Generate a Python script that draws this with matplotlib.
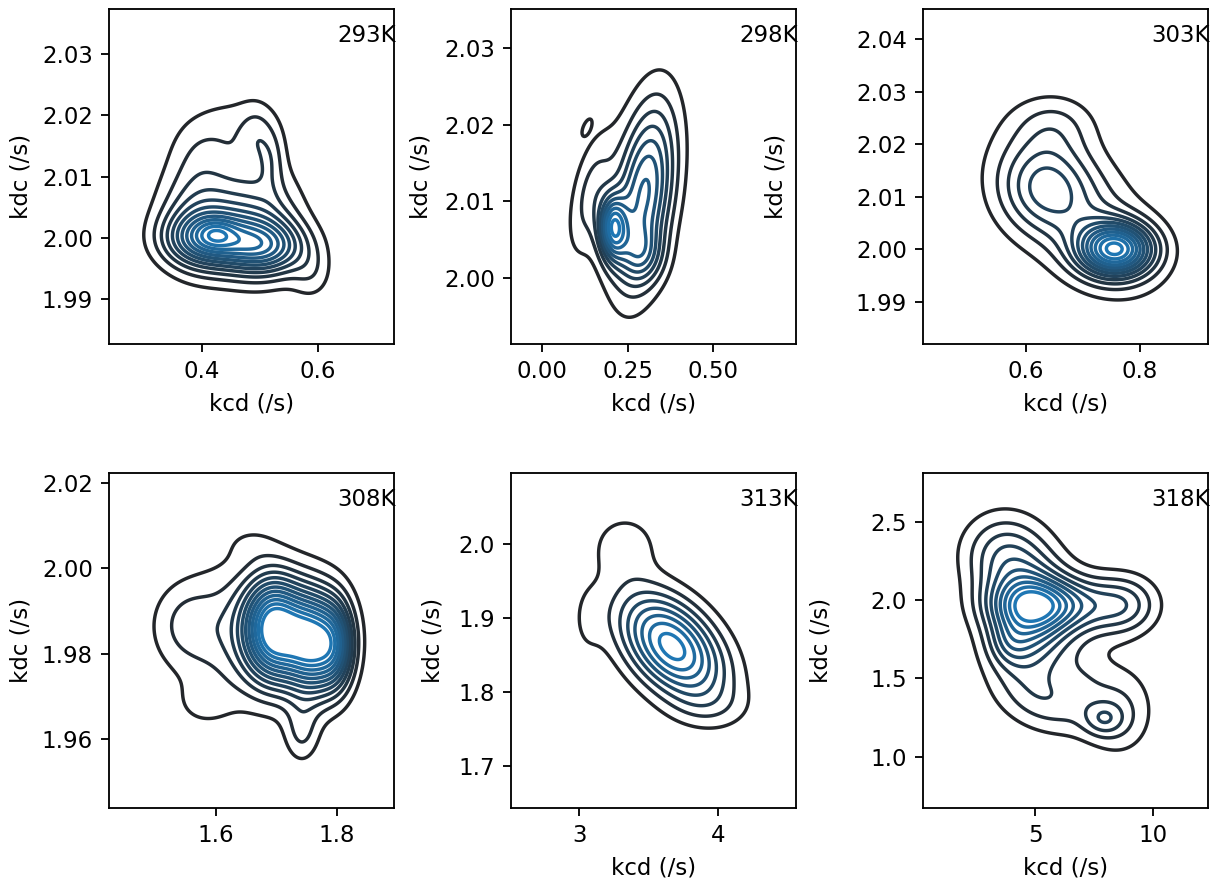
import numpy as np
import matplotlib
matplotlib.use('Agg')
import matplotlib.pyplot as plt
import seaborn as sns

# temperature of each panel
temps = ['293K', '298K', '303K', '308K', '313K', '318K']

# density bumps: (kcd, kdc, sd kcd, sd kdc, height, corr)
blobs_293 = [(0.425, 2.0007, 0.022, 0.0015, 0.12, 0.0),
             (0.410, 1.9998, 0.050, 0.0030, 0.45, 0.0),
             (0.510, 1.9985, 0.050, 0.0030, 0.42, 0.0),
             (0.400, 2.0035, 0.050, 0.0060, 0.30, 0.0),
             (0.500, 2.0025, 0.050, 0.0060, 0.28, 0.0),
             (0.390, 2.0140, 0.035, 0.0040, 0.06, 0.0),
             (0.495, 2.0165, 0.020, 0.0035, 0.10, 0.0),
             (0.520, 2.0125, 0.015, 0.0035, 0.10, 0.0),
             (0.460, 2.0175, 0.060, 0.0045, 0.10, 0.0),
             (0.590, 1.9940, 0.025, 0.0030, 0.10, 0.0)]
blobs_298 = [(0.207, 2.0066, 0.028, 0.0028, 0.50, 0.0),
             (0.300, 2.0110, 0.060, 0.0080, 0.42, 0.35),
             (0.290, 2.0030, 0.045, 0.0025, 0.18, 0.0),
             (0.280, 2.0110, 0.090, 0.0090, 0.06, 0.4),
             (0.140, 2.0110, 0.045, 0.0055, 0.14, 0.5),
             (0.130, 2.0197, 0.013, 0.0010, 0.08, 0.6)]
blobs_303 = [(0.758, 2.0000, 0.045, 0.0035, 0.75, 0.0),
             (0.630, 2.0120, 0.055, 0.0060, 0.24, 0.0),
             (0.690, 2.0070, 0.090, 0.0100, 0.22, -0.5),
             (0.650, 2.0240, 0.050, 0.0040, 0.12, 0.0)]
blobs_308 = [(1.695, 1.9858, 0.033, 0.0080, 0.50, 0.0),
             (1.762, 1.9825, 0.032, 0.0080, 0.50, 0.0),
             (1.800, 1.9820, 0.020, 0.0070, 0.20, 0.0),
             (1.660, 1.9850, 0.090, 0.0110, 0.14, 0.0),
             (1.550, 1.9870, 0.035, 0.0060, 0.06, 0.0),
             (1.580, 1.9680, 0.035, 0.0040, 0.04, 0.0),
             (1.742, 1.9615, 0.020, 0.0050, 0.09, 0.0),
             (1.655, 2.0060, 0.030, 0.0030, 0.03, 0.0)]
blobs_313 = [(3.670, 1.862, 0.26, 0.050, 1.00, -0.45),
             (3.330, 2.000, 0.170, 0.030, 0.18, 0.0),
             (3.050, 1.895, 0.09, 0.040, 0.10, 0.0),
             (3.950, 1.780, 0.20, 0.020, 0.08, 0.0)]
blobs_318 = [(5.300, 1.975, 1.50, 0.110, 0.35, 0.0),
             (4.700, 1.900, 1.20, 0.250, 0.55, 0.0),
             (3.900, 1.720, 0.60, 0.100, 0.12, 0.0),
             (3.600, 2.300, 1.20, 0.180, 0.24, 0.0),
             (8.800, 1.970, 1.00, 0.130, 0.25, 0.0),
             (7.000, 1.950, 1.20, 0.150, 0.15, 0.0),
             (7.900, 1.240, 0.60, 0.075, 0.16, 0.0),
             (8.600, 1.300, 1.00, 0.200, 0.16, 0.0),
             (7.000, 1.500, 0.80, 0.150, 0.08, 0.0),
             (5.500, 1.350, 1.40, 0.150, 0.18, -0.3)]
all_blobs = [blobs_293, blobs_298, blobs_303, blobs_308, blobs_313, blobs_318]
n_levels = [12, 10, 12, 12, 8, 10]
top_level = [0.96, 0.95, 0.96, 0.82, 0.94, 0.86]

# axis ranges and ticks of the panels
xlims = [(0.240, 0.732), (-0.091, 0.742), (0.419, 0.920),
         (1.424, 1.894), (2.506, 4.566), (0.255, 12.32)]
ylims = [(1.9827, 2.0373), (1.9914, 2.0351), (1.9820, 2.0458),
         (1.9439, 2.0223), (1.6439, 2.0964), (0.673, 2.812)]
xticks = [[0.4, 0.6], [0.0, 0.25, 0.5], [0.6, 0.8],
          [1.6, 1.8], [3, 4], [5, 10]]
yticks = [[1.99, 2.00, 2.01, 2.02, 2.03], [2.00, 2.01, 2.02, 2.03],
          [1.99, 2.00, 2.01, 2.02, 2.03, 2.04], [1.96, 1.98, 2.00, 2.02],
          [1.7, 1.8, 1.9, 2.0], [1.0, 1.5, 2.0, 2.5]]
xfmt = ['%.1f', '%.2f', '%.1f', '%.1f', '%d', '%d']
yfmt = ['%.2f', '%.2f', '%.2f', '%.2f', '%.1f', '%.1f']
ylab_x = [-0.270, -0.276, -0.474, -0.270, -0.232, -0.319]
show_xlabel = [True, True, True, False, True, True]


def density(blobs, X, Y):
    z = np.zeros_like(X)
    for cx, cy, sx, sy, h, r in blobs:
        dx = (X - cx) / sx
        dy = (Y - cy) / sy
        z += h * np.exp(-0.5 * (dx**2 - 2 * r * dx * dy + dy**2) / (1 - r**2))
    return z


DPI = 165
fig = plt.figure(figsize=(1213 / DPI, 884 / DPI), dpi=DPI)
cmap = sns.dark_palette('#1f77b4', as_cmap=True)

lefts = [109, 511, 923]
tops = [9, 473]
W, H = 285, 335

for i in range(6):
    r, c = divmod(i, 3)
    ax = fig.add_axes([lefts[c] / 1213, 1 - (tops[r] + H) / 884, W / 1213, H / 884])
    x0, x1 = xlims[i]
    y0, y1 = ylims[i]
    xx, yy = np.meshgrid(np.linspace(x0, x1, 250), np.linspace(y0, y1, 250))
    z = density(all_blobs[i], xx, yy)
    n = n_levels[i]
    levels = z.max() * top_level[i] * np.arange(1, n + 1) / n
    ax.contour(xx, yy, z, levels=levels, cmap=cmap)
    ax.set_xlim(x0, x1)
    ax.set_ylim(y0, y1)
    ax.set_xticks(xticks[i])
    ax.set_yticks(yticks[i])
    ax.set_xticklabels([xfmt[i] % v for v in xticks[i]])
    ax.set_yticklabels([yfmt[i] % v for v in yticks[i]])
    if show_xlabel[i]:
        ax.set_xlabel('kcd (/s)')
    ax.set_ylabel('kdc (/s)')
    ax.yaxis.set_label_coords(ylab_x[i], 0.5)
    ax.text(0.8, 0.9, temps[i], transform=ax.transAxes)

fig.savefig('out.png', dpi=DPI)
